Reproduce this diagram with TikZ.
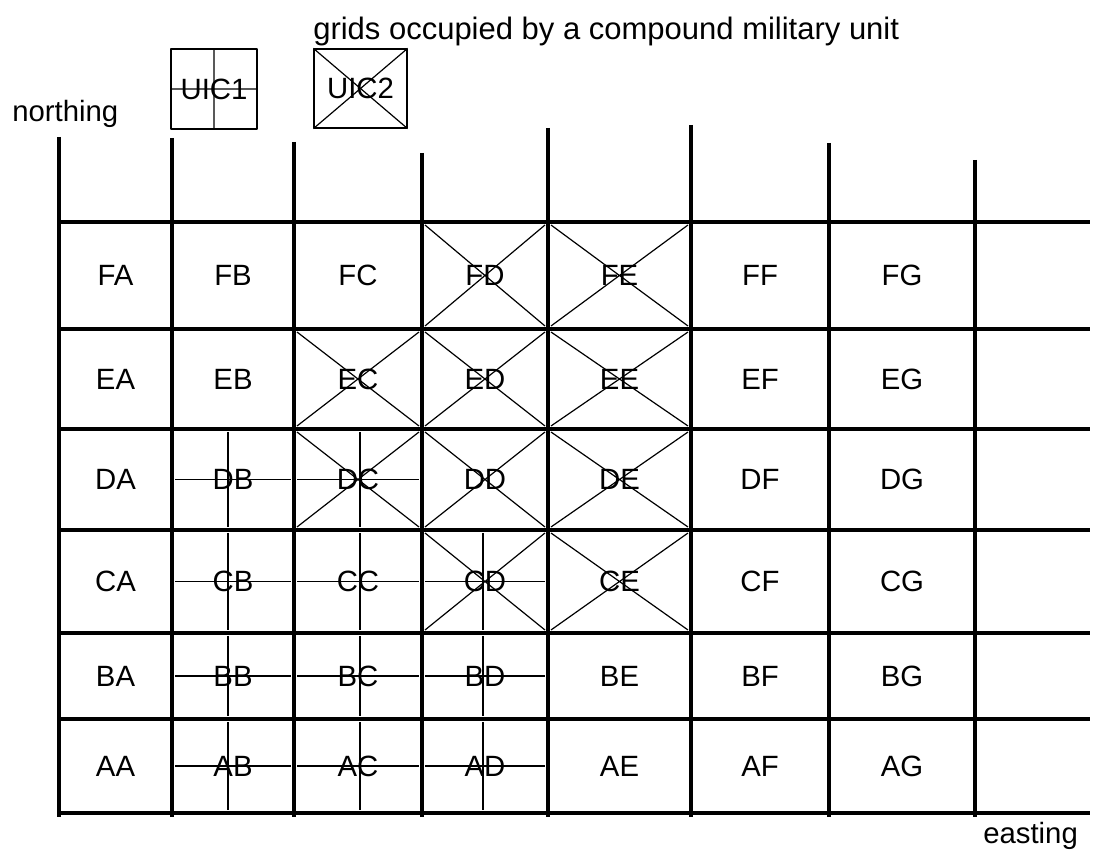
\documentclass[tikz,border=0pt]{standalone}
\usepackage{fontspec}
\setmainfont{Liberation Sans}
\begin{document}
\begin{tikzpicture}[x=0.75pt, y=-0.75pt, line join=round, font=\fontsize{22}{26}\selectfont]
                \def\gbot{817}\def\gend{1090}\def\ins{3}
                \tikzset{g/.style={line width=2.6pt},
                    t/.style={line width=0.9pt},
                    c/.style={inner sep=0pt},
                    lg/.style={t,draw,inner sep=0pt,minimum width=64.5pt,minimum height=60pt}}
                \useasboundingbox(0,0)rectangle(1097,855);
                
                \foreach \x/\tp in {59/137,172/138,294/142,422/153,548/128,691/125,829/143,975/160}{
                    \draw[g](\x,\tp)--(\x,\gbot);	}
                \foreach \y in {222,329,429,530,633,719,813}{
                    \draw[g](57,\y)--(\gend,\y);	}
                \foreach \rw/\ya/\yb in {F/222/329,E/329/429,D/429/530,C/530/633,B/633/719,A/719/813}{
                    \foreach \cl/\xa/\xb/\xm in {A/59/172/115,B/172/294/228,C/294/422/360,D/422/548/483,E/548/691/620,F/691/829/760,G/829/975/902}{
                        \path({\xa+\ins},{\ya+\ins})coordinate(nw\rw\cl) ({\xb-\ins},{\yb-\ins})coordinate(se\rw\cl) (\xm,{\ya+\ins})coordinate(v\rw\cl)
                        ({(\xa+\xb)/2},{(\ya+\yb)/2})node[c](\rw\cl){\rw\cl};	}}
                \foreach \n in {FD,FE,EC,ED,EE,DC,DD,DE,CD,CE}{
                    \draw[t](nw\n)--(se\n) (nw\n -| se\n)--(se\n -| nw\n);	}
                \foreach \n in {DB,DC,CB,CC,CD,BB,BC,BD,AB,AC,AD}{
                    \draw[t](v\n)--(v\n |- se\n) (nw\n |- \n)--(se\n |- \n);	}
                \path(214,89)node[lg](uic1){UIC1} (360.5,88.5)node[lg,minimum width=69.75pt,minimum height=59.25pt](uic2){UIC2};
                \draw[t](uic1.north)--(uic1.south) (uic1.west)--(uic1.east)
                (uic2.north west)--(uic2.south east) (uic2.north east)--(uic2.south west);
                \path(12,122)node[c,anchor=base west](north){northing}
                (983,843)node[c,anchor=base west](east){easting}
                (313,40)node[c,anchor=base west,font=\fontsize{23.25}{28}\selectfont](title){grids occupied by a compound military unit};
            \end{tikzpicture}
\end{document}
